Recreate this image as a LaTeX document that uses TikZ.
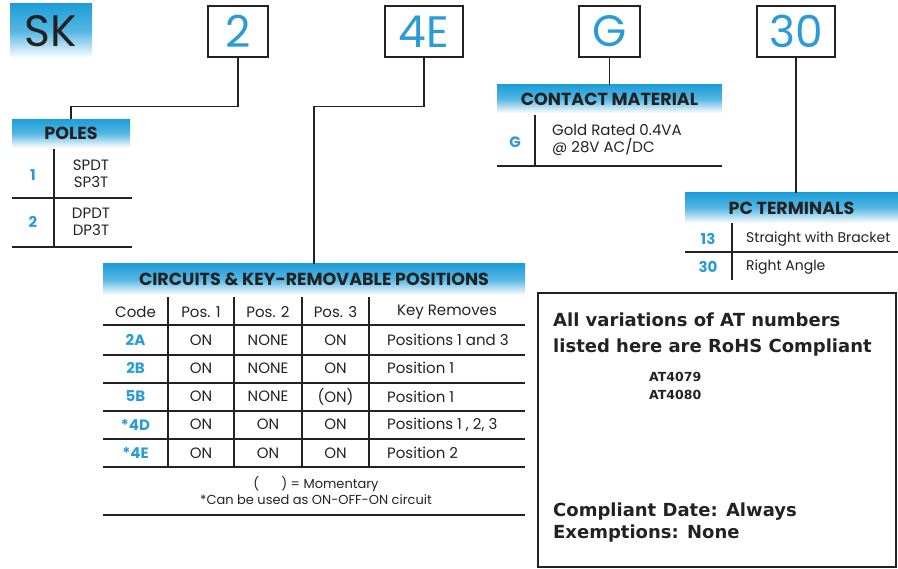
\documentclass[tikz,border=0pt]{standalone}
\usepackage{fontspec}
\setmainfont{Poppins}
\newfontfamily\rohsfont{DejaVu Sans}
\definecolor{brandblue}{HTML}{1E9ED9}
\definecolor{codeblue}{HTML}{2A9BD6}
\definecolor{ink}{HTML}{222222}

\begin{document}
\begin{tikzpicture}[x=1pt, y=-1pt,
  partbox/.style={draw=ink, line width=1.1pt, minimum width=#1, minimum height=51pt, inner sep=0pt, text=codeblue, font=\fontsize{44}{44}\selectfont},
  hdbar/.style={top color=brandblue, bottom color=white, middle color=brandblue!75, minimum width=#1, minimum height=29pt, inner sep=0pt, text=ink, font=\bfseries\fontsize{17.5}{17.5}\selectfont},
  cell/.style={inner sep=0pt, text=ink, font=\fontsize{15}{17}\selectfont},
  code/.style={cell, text=codeblue, font=\bfseries\fontsize{15}{17}\selectfont},
  rule/.style={draw=ink, line width=1.1pt},
  rohstxt/.style={anchor=west, inner sep=0pt, text=ink, font=\rohsfont\bfseries\fontsize{18}{18}\selectfont},
]
\useasboundingbox (0,0) rectangle (898,569);
\node[hdbar=82pt, minimum height=54pt, font=\fontsize{44}{44}\selectfont] (sk) at (51,31) {SK};
\node[partbox=60pt] (b2) at (238,31.5) {2};
\node[partbox=78pt] (b4e) at (424,31.5) {4E};
\node[partbox=61pt] (bg) at (609.5,31.5) {G};
\node[partbox=78pt] (b30) at (796,31.5) {30};

\node[hdbar=118pt, minimum height=28pt] (poles) at (71,133.5) {POLES};
\node[code] (p1) at (33,175) {1};
\node[cell, align=center] (p1txt) at (91,174) {SPDT\\SP3T};
\node[code] (p2) at (33,222) {2};
\node[cell, align=center] (p2txt) at (91,222) {DPDT\\DP3T};
\draw[rule] (54,149) -- (54,247);
\draw[rule] (12,198) -- (132,198);
\draw[rule] (12,247) -- (132,247);

\node[hdbar=225pt, minimum height=28pt] (contact) at (609.5,99) {CONTACT MATERIAL};
\node[code] (cg) at (515,142) {G};
\node[cell, anchor=west, align=left] (ctxt) at (552,140) {Gold Rated 0.4VA\\@ 28V AC/DC};
\draw[rule] (535,115) -- (535,166);
\draw[rule] (497,166) -- (722,166);

\node[hdbar=213pt, minimum height=30pt] (pcterm) at (791.5,208) {PC TERMINALS};
\node[code] (t13) at (708,239) {13};
\node[cell, anchor=west, font=\fontsize{14}{17}\selectfont] (t13txt) at (746,239) {Straight with Bracket};
\node[code] (t30) at (708,267) {30};
\node[cell, anchor=west, font=\fontsize{14}{17}\selectfont] (t30txt) at (746,267) {Right Angle};
\draw[rule] (732,223) -- (732,280);
\draw[rule] (685,252) -- (898,252);

\node[hdbar=422pt, minimum height=31pt] (circ) at (314,279.5) {CIRCUITS \& KEY-REMOVABLE POSITIONS};
\foreach \x/\t [count=\i] in {135.5/Code, 201/Pos. 1, 268/Pos. 2, 335.5/Pos. 3, 447/Key Removes}
  \node[cell] (head\i) at (\x,312) {\t};
\foreach \c/\a/\b/\d/\k [count=\i] in {2A/ON/NONE/ON/Positions 1 and 3, 2B/ON/NONE/ON/Position 1,
    5B/ON/NONE/(ON)/Position 1, *4D/ON/ON/ON/Positions 1 {,} 2{,} 3, *4E/ON/ON/ON/Position 2} {
  \pgfmathsetmacro{\y}{340+28.25*(\i-1)}
  \node[code] (code\i) at (135.5,\y) {\c};
  \node[cell] (posa\i) at (201,\y) {\a};
  \node[cell] (posb\i) at (268,\y) {\b};
  \node[cell] (posc\i) at (335.5,\y) {\d};
  \node[cell, anchor=west] (key\i) at (387,\y) {\k};
}
\foreach \x in {168,234,302,369}
  \draw[rule] (\x,297) -- (\x,467);
\foreach \y in {325,355,383,411,439,467}
  \draw[rule] (103,\y) -- (525,\y);
\node[cell, align=center, font=\fontsize{13}{16}\selectfont] (notes) at (316,490) {(\hspace{22pt}) = Momentary\\*Can be used as ON-OFF-ON circuit};
\draw[rule] (103,515) -- (525,515);

\draw[rule] (b2.south) -- ++(0,49) -| (poles.north);
\draw[rule] (b4e.south) -- ++(0,49) -| (circ.north);
\draw[rule] (bg.south) -- (contact.north);
\draw[rule] (b30.south) -- (b30.south |- pcterm.north);

\node[draw=ink, line width=2pt, minimum width=358pt, minimum height=274pt, inner sep=0pt] (rohs) at (717,430) {};
\node[rohstxt] (rohs1) at (553,320) {All variations of AT numbers};
\node[rohstxt] (rohs2) at (553,348) {listed here are RoHS Compliant};
\node[rohstxt, anchor=north west, align=left, font=\rohsfont\bfseries\fontsize{12.5}{18}\selectfont] (atnum) at (649,372) {AT4079\\AT4080};
\node[rohstxt] (rohs3) at (553,512) {Compliant Date: Always};
\node[rohstxt] (rohs4) at (553,534) {Exemptions: None};
\end{tikzpicture}
\end{document}
